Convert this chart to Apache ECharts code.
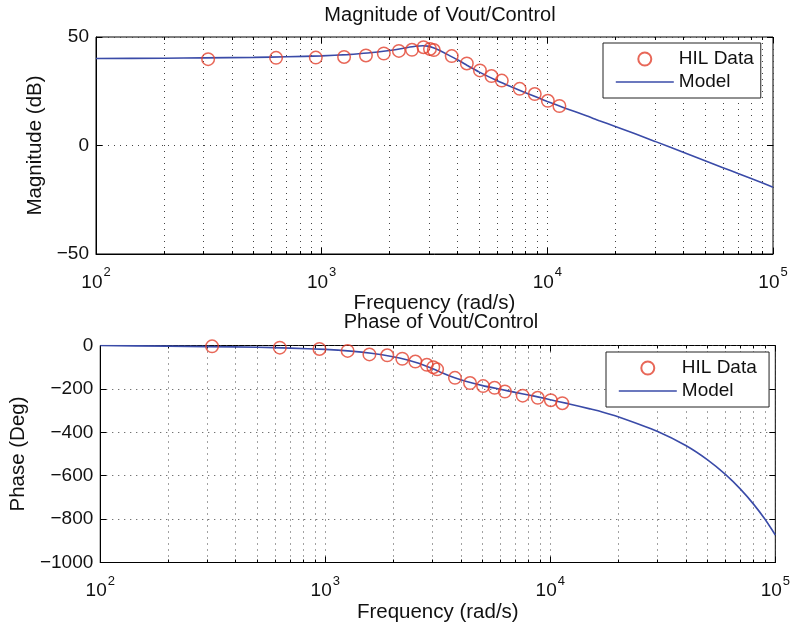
<!DOCTYPE html>
<html>
<head>
<meta charset="utf-8">
<script src="https://cdn.jsdelivr.net/npm/echarts@6/dist/echarts.min.js"></script>
<style>
html, body { margin: 0; padding: 0; background: #fff; }
#chart { width: 793px; height: 626px; }
</style>
</head>
<body>
<div id="chart"></div>
<script>
// measured points (rad/s)
const hilFreq = [314, 628, 942, 1257, 1571, 1885, 2199, 2513, 2827, 3020, 3140, 3770, 4398, 5027, 5655, 6283, 7540, 8796, 10053, 11310];
const hilMag = [39.8, 40.4, 40.5, 40.8, 41.5, 42.4, 43.6, 44.1, 45.3, 44.5, 44.0, 41.2, 37.8, 34.6, 32.0, 29.9, 26.1, 23.7, 20.6, 18.2];
const hilPhase = [-4, -10, -16, -25, -41, -45, -61, -74, -89, -100, -110, -149, -173, -187, -195, -212, -231, -241, -252, -266];

// model curve
const modelFreq = [100, 200, 300, 500, 700, 1000, 1300, 1600, 2000, 2300, 2600, 2800, 2950, 3100, 3300, 3600, 4000, 4500, 5000, 6000, 7000, 8000, 9000, 10000, 12000, 15000, 17000, 20000, 30000, 40000, 50000, 60000, 70000, 80000, 90000, 100000];
const modelMag = [40.1, 40.2, 40.4, 40.6, 40.9, 41.3, 41.9, 42.6, 43.8, 44.8, 45.7, 46.0, 45.8, 45.2, 44.0, 42.0, 39.5, 36.4, 33.8, 29.8, 26.8, 24.3, 22.2, 20.3, 17.2, 13.6, 11.4, 8.8, 1.9, -3.1, -7.0, -10.2, -12.9, -15.2, -17.3, -19.2];
const modelPhase = [0, -3, -5, -8, -12, -18, -26, -36, -52, -66, -82, -95, -104, -113, -126, -142, -158, -173, -185, -202, -216, -228, -239, -250, -268, -292, -306, -328, -396, -461, -527, -594, -662, -731, -801, -873];

const magTicks = [-50, 0, 50];
const phaseTicks = [-1000, 0];
const freqRange = [100, 100000];

const FONT = 'Liberation Sans, Arial, sans-serif';
const red = '#e2412e';
const blue = '#3a4ba8';
const dotted = { color: '#444', width: 1, type: [1, 5] };

const pairs = (xs, ys) => xs.map((x, i) => [x, ys[i]]);
const minus = v => String(v).replace('-', '\u2212');

function logAxis(gridIndex, top) {
    return {
        type: 'log', logBase: 10, gridIndex: gridIndex,
        min: freqRange[0], max: freqRange[1],
        position: top ? 'top' : 'bottom',
        axisLine: { show: !top, onZero: false, lineStyle: { color: '#000', width: 1 } },
        axisTick: { show: true, inside: true, length: 6, lineStyle: { color: '#000' } },
        minorTick: { show: true, splitNumber: 9, length: 3, lineStyle: { color: '#000' } },
        axisLabel: top ? { show: false } : {
            show: true, margin: 18, color: '#111',
            formatter: v => '{b|10}{s|' + Math.round(Math.log10(v)) + '}',
            rich: {
                b: { fontSize: 19, fontFamily: FONT, color: '#111', verticalAlign: 'bottom', lineHeight: 20 },
                s: { fontSize: 13, fontFamily: FONT, color: '#111', verticalAlign: 'bottom', lineHeight: 14, padding: [0, 0, 13, 1] }
            }
        },
        splitLine: { show: !top, lineStyle: dotted },
        minorSplitLine: { show: !top, lineStyle: dotted },
        name: top ? '' : 'Frequency (rad/s)',
        nameLocation: 'middle', nameGap: 37,
        nameTextStyle: { fontSize: 20.5, fontFamily: FONT, color: '#111' }
    };
}

function valAxis(gridIndex, min, max, interval, name, gap, right) {
    return {
        type: 'value', gridIndex: gridIndex, min: min, max: max, interval: interval,
        position: right ? 'right' : 'left',
        axisLine: { show: !right, onZero: false, lineStyle: { color: '#000', width: 1 } },
        axisTick: { show: true, inside: true, length: 6, lineStyle: { color: '#000' } },
        axisLabel: right ? { show: false } : { show: true, fontSize: 19, fontFamily: FONT, color: '#111', margin: 7, formatter: minus },
        splitLine: { show: !right, lineStyle: dotted },
        name: right ? '' : name, nameLocation: 'middle', nameGap: gap,
        nameTextStyle: { fontSize: 20.5, fontFamily: FONT, color: '#111' }
    };
}

function legendAt(left, top, seriesNames) {
    return {
        left: left, top: top, orient: 'vertical',
        data: [
            { name: seriesNames[0] },
            { name: seriesNames[1], icon: 'line', itemStyle: { borderColor: blue, borderWidth: 1.6 }, lineStyle: { color: blue, width: 1.6 } }
        ],
        itemWidth: 58, itemHeight: 13, itemGap: 3,
        padding: [6, 7, 6, 12],
        borderColor: '#222', borderWidth: 1, backgroundColor: '#fff',
        textStyle: { fontSize: 19, fontFamily: FONT, color: '#111', lineHeight: 20 }
    };
}

const titleStyle = { fontSize: 20, fontWeight: 'normal', fontFamily: FONT, color: '#111' };

const chart = echarts.init(document.getElementById('chart'));
chart.setOption({
    backgroundColor: '#fff',
    animation: false,
    title: [
        { text: 'Magnitude of Vout/Control', left: 435, top: 0, textAlign: 'center', textStyle: titleStyle },
        { text: 'Phase of Vout/Control', left: 436, top: 307, textAlign: 'center', textStyle: titleStyle }
    ],
    legend: [
        legendAt(603, 43, ['HIL Data', 'Model']),
        legendAt(606, 352, ['HIL Data ', 'Model '])
    ],
    grid: [
        { left: 96, right: 20, top: 37, height: 217, show: true, borderColor: '#000', borderWidth: 1, backgroundColor: '#fff' },
        { left: 100, right: 17, top: 345.5, height: 217, show: true, borderColor: '#000', borderWidth: 1, backgroundColor: '#fff' }
    ],
    xAxis: [logAxis(0, false), logAxis(1, false), logAxis(0, true), logAxis(1, true)],
    yAxis: [
        valAxis(0, magTicks[0], magTicks[2], 50, 'Magnitude (dB)', 40, false),
        valAxis(1, phaseTicks[0], phaseTicks[1], 200, 'Phase (Deg)', 65, false),
        valAxis(0, magTicks[0], magTicks[2], 50, '', 0, true),
        valAxis(1, phaseTicks[0], phaseTicks[1], 200, '', 0, true)
    ],
    series: [
        { name: 'Model', type: 'line', xAxisIndex: 0, yAxisIndex: 0, data: pairs(modelFreq, modelMag),
          smooth: 0.2, showSymbol: false, symbol: 'none', lineStyle: { color: blue, width: 1.6 }, itemStyle: { color: blue }, z: 2 },
        { name: 'HIL Data', type: 'scatter', xAxisIndex: 0, yAxisIndex: 0, data: pairs(hilFreq, hilMag),
          symbol: 'circle', symbolSize: 12.5, itemStyle: { color: 'rgba(255,255,255,0)', borderColor: red, borderWidth: 1.5 }, z: 3 },
        { name: 'Model ', type: 'line', xAxisIndex: 1, yAxisIndex: 1, data: pairs(modelFreq, modelPhase),
          smooth: 0.2, showSymbol: false, symbol: 'none', lineStyle: { color: blue, width: 1.6 }, itemStyle: { color: blue }, z: 2 },
        { name: 'HIL Data ', type: 'scatter', xAxisIndex: 1, yAxisIndex: 1, data: pairs(hilFreq, hilPhase),
          symbol: 'circle', symbolSize: 12.5, itemStyle: { color: 'rgba(255,255,255,0)', borderColor: red, borderWidth: 1.5 }, z: 3 }
    ]
});
</script>
</body>
</html>
